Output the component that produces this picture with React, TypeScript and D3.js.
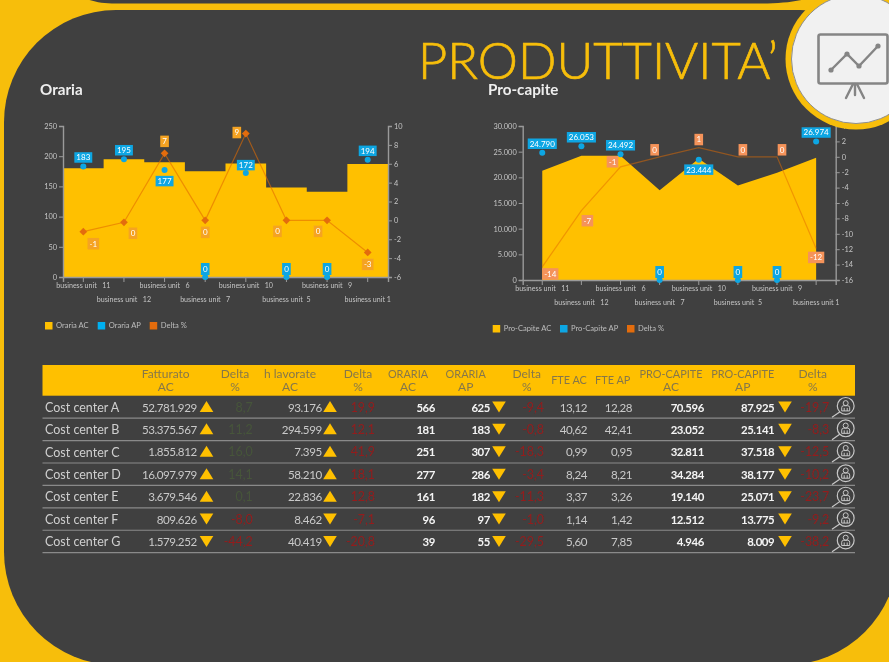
import React, { useEffect, useRef } from 'react';
import * as d3 from 'd3';

// ---- data ----
const units = ['business unit   11', 'business unit   12', 'business unit   6', 'business unit   7', 'business unit   10', 'business unit  5', 'business unit   9', 'business unit 1'];

const orariaAC = [180, 195, 190, 175, 188, 148, 141, 187];
const orariaAP = [183, 195, 177, 0, 172, 0, 0, 194];
const orariaDelta = [-1.2, -0.2, 7.1, 0, 9.2, 0, 0, -3.4];

const procapiteAC = [21300, 24200, 24200, 17500, 23600, 18400, 20900, 23800];
const procapiteAP = [24790, 26053, 24492, 0, 23444, 0, 0, 26974];
const procapiteDelta = [-14.3, -7, -1.3, 0, 1.2, 0, 0, -11.9];

const orariaTicks = [0, 50, 100, 150, 200, 250];
const orariaDeltaTicks = [-6, -4, -2, 0, 2, 4, 6, 8, 10];
const procapiteTicks = [0, 5000, 10000, 15000, 20000, 25000, 30000];
const procapiteDeltaTicks = [-16, -14, -12, -10, -8, -6, -4, -2, 0, 2, 4];

const centers = ['Cost center A', 'Cost center B', 'Cost center C', 'Cost center D', 'Cost center E', 'Cost center F', 'Cost center G'];
const fatturatoAC = [52781929, 53375567, 1855812, 16097979, 3679546, 809626, 1579252];
const fatturatoDelta = [8.7, 11.2, 16.0, 14.1, 0.1, -8.0, -44.2];
const oreAC = [93176, 294599, 7395, 58210, 22836, 8462, 40419];
const oreDelta = [19.9, 12.1, 41.9, 18.1, 12.8, -7.1, -20.8];
const tabOrariaAC = [566, 181, 251, 277, 161, 96, 39];
const tabOrariaAP = [625, 183, 307, 286, 182, 97, 55];
const tabOrariaDelta = [-9.4, -0.8, -18.3, -3.4, -11.3, -1.0, -29.5];
const fteAC = [13.12, 40.62, 0.99, 8.24, 3.37, 1.14, 5.60];
const fteAP = [12.28, 42.41, 0.95, 8.21, 3.26, 1.42, 7.85];
const tabCapiteAC = [70596, 23052, 32811, 34284, 19140, 12512, 4946];
const tabCapiteAP = [87925, 25141, 37518, 38177, 25071, 13775, 8009];
const tabCapiteDelta = [-19.7, -8.3, -12.5, -10.2, -23.7, -9.2, -38.2];

// ---- label nudges, one [dx, dy] per point ----
const orariaAPNudge = [[0, -9], [0, -9], [0, 11], [0, -8], [0, -8], [0, -8], [0, -8], [0, -9]];
const orariaDeltaNudge = [[10, 12], [9, 11], [0, -12], [0, 12], [-9, -1], [-9, 11], [-9, 11], [0, 12]];
const procapiteAPNudge = [[0, -9], [0, -9], [0, -9], [0, -8], [0, 10], [0, -8], [0, -8], [0, -9]];
const procapiteDeltaNudge = [[8, 7], [6, 10], [-8, -5], [-5, -7], [0, -8], [5, -7], [5, -7], [0, 9]];

const FONT = 'Lato, "Open Sans", sans-serif';
const YELLOW = '#F7BE0B';
const PANEL = '#404040';
const GOLD = '#FFC000';
const BLUE = '#0FA6E3';
const ORANGE = '#E36C0A';

const it = d3.formatLocale({ decimal: ',', thousands: '.', grouping: [3], currency: ['', ''], minus: '-' });
const fmtInt = it.format(',d');
const fmt1 = it.format(',.1f');
const fmt2 = it.format(',.2f');
const fmtRound = it.format('.0f');

type Combo = {
  left: number; right: number; top: number; bottom: number;
  ac: number[]; ap: number[]; delta: number[];
  ticks: number[]; deltaTicks: number[];
  apNudge: number[][]; deltaNudge: number[][];
  step: boolean; markers: boolean; labelFill: string; lineOpacity: number;
  apFormat: (v: number) => string; axisFormat: (v: number) => string;
};

function drawCombo(g: any, c: Combo) {
  const x = d3.scaleBand<string>().domain(units).range([c.left, c.right]);
  const mid = (i: number) => x(units[i])! + x.bandwidth() / 2;
  const y = d3.scaleLinear().domain([c.ticks[0], c.ticks[c.ticks.length - 1]]).range([c.bottom, c.top]);
  const yd = d3.scaleLinear().domain([c.deltaTicks[0], c.deltaTicks[c.deltaTicks.length - 1]]).range([c.bottom, c.top]);

  // AC area
  if (c.step) {
    const pts = c.ac.map((v, i) => [x(units[i])!, v] as [number, number]);
    pts.push([c.right, c.ac[c.ac.length - 1]]);
    const area = d3.area<[number, number]>().x(d => d[0]).y0(c.bottom).y1(d => y(d[1])).curve(d3.curveStepAfter);
    g.append('path').attr('d', area(pts)).attr('fill', GOLD);
  } else {
    const area = d3.area<number>().x((_, i) => mid(i)).y0(c.bottom).y1(d => y(d));
    g.append('path').attr('d', area(c.ac)).attr('fill', GOLD);
  }

  const styleAxis = (a: any) => {
    a.select('.domain').attr('stroke', '#9a9a9a').attr('stroke-width', 1.4);
    a.selectAll('.tick line').attr('stroke', '#9a9a9a').attr('stroke-width', 1);
    a.selectAll('.tick text').attr('fill', '#c4c4c4').attr('font-size', 7.4).attr('font-family', FONT);
  };

  const axisL = g.append('g').attr('transform', `translate(${c.left},0)`)
    .call(d3.axisLeft(y).tickValues(c.ticks).tickFormat(c.axisFormat as any).tickSize(4).tickPadding(2));
  styleAxis(axisL);
  const axisR = g.append('g').attr('transform', `translate(${c.right},0)`)
    .call(d3.axisRight(yd).tickValues(c.deltaTicks).tickFormat(fmtRound as any).tickSize(4).tickPadding(2));
  styleAxis(axisR);
  const axisB = g.append('g').attr('transform', `translate(0,${c.bottom})`)
    .call(d3.axisBottom(x).tickSize(5).tickPadding(5));
  styleAxis(axisB);
  axisB.selectAll('.tick text')
    .style('white-space', 'pre')
    .attr('font-size', 7.1)
    .attr('y', (_: any, i: number) => (i % 2 ? 20 : 6));

  // delta line
  const line = d3.line<number>().x((_, i) => mid(i)).y(d => yd(d));
  g.append('path').attr('d', line(c.delta)).attr('fill', 'none')
    .attr('stroke', ORANGE).attr('stroke-width', 1.2).attr('stroke-opacity', c.lineOpacity);

  if (c.markers) {
    const diamond = d3.symbol().type(d3.symbolSquare).size(30);
    g.selectAll('.mark').data(c.delta).enter().append('path')
      .attr('class', 'mark').attr('d', diamond as any)
      .attr('transform', (d: number, i: number) => `translate(${mid(i)},${yd(d)}) rotate(45)`)
      .attr('fill', ORANGE);
  }

  // AP dots
  g.selectAll('.dot').data(c.ap).enter().append('circle')
    .attr('class', 'dot').attr('cx', (_: number, i: number) => mid(i)).attr('cy', (d: number) => y(d))
    .attr('r', 3).attr('fill', BLUE);

  const tag = (text: string, cx: number, cy: number, fill: string, h: number) => {
    const t = g.append('g').attr('transform', `translate(${cx},${cy})`);
    const r = t.append('rect').attr('fill', fill);
    const s = t.append('text').text(text).attr('text-anchor', 'middle').attr('y', 2.9)
      .attr('fill', '#fff').attr('font-size', 8).attr('font-family', FONT);
    const w = Math.max((s.node() as SVGTextElement).getComputedTextLength() + 4, 8);
    r.attr('x', -w / 2).attr('y', -h / 2).attr('width', w).attr('height', h);
  };

  c.delta.forEach((d, i) => {
    const [dx, dy] = c.deltaNudge[i];
    tag(fmtRound(d), mid(i) + dx, yd(d) + dy, c.labelFill, 11.5);
  });
  c.ap.forEach((d, i) => {
    const [dx, dy] = c.apNudge[i];
    tag(c.apFormat(d), mid(i) + dx, y(d) + dy, BLUE, d === 0 ? 12 : 10.5);
  });
}

function drawLegend(g: any, items: { label: string; color: string; x: number }[], y: number) {
  items.forEach(it2 => {
    g.append('rect').attr('x', it2.x).attr('y', y).attr('width', 7.5).attr('height', 7.5).attr('fill', it2.color);
    g.append('text').text(it2.label).attr('x', it2.x + 11).attr('y', y + 6.4)
      .attr('fill', '#bdbdbd').attr('font-size', 7.6).attr('font-family', FONT);
  });
}

const GREEN_DIM = '#46553a';
const RED_DIM = '#931c1c';

function drawTable(g: any) {
  const left = 42.5, right = 855, headTop = 365, headBottom = 395.7, rowsBottom = 552.7;
  const rows = d3.scaleBand<string>().domain(centers).range([headBottom, rowsBottom]);

  g.append('rect').attr('x', left).attr('y', headTop).attr('width', right - left).attr('height', headBottom - headTop).attr('fill', GOLD);

  const colDelta = (arr: number[], good: boolean) => (i: number) => (good && arr[i] > 0 ? GREEN_DIM : RED_DIM);
  const plain = () => '#c9c9c9';
  const bold = () => '#f4f4f4';

  const cols = [
    { head: ['Fatturato', 'AC'], hx: 165.7, rx: 196.7, vals: fatturatoAC, f: fmtInt, color: plain, weight: 400, tri: (i: number) => fatturatoDelta[i] > 0, tx: 206.5 },
    { head: ['Delta', '%'], hx: 235, rx: 252.7, vals: fatturatoDelta, f: fmt1, color: colDelta(fatturatoDelta, true), weight: 400, wide: true },
    { head: ['h lavorate', 'AC'], hx: 290, rx: 321.7, vals: oreAC, f: fmtInt, color: plain, weight: 400, tri: (i: number) => oreDelta[i] > 0, tx: 330 },
    { head: ['Delta', '%'], hx: 358, rx: 375, vals: oreDelta, f: fmt1, color: colDelta(oreDelta, false), weight: 400, wide: true },
    { head: ['ORARIA', 'AC'], hx: 408, rx: 435, vals: tabOrariaAC, f: fmtInt, color: bold, weight: 700 },
    { head: ['ORARIA', 'AP'], hx: 465.7, rx: 490, vals: tabOrariaAP, f: fmtInt, color: bold, weight: 700, tri: (i: number) => tabOrariaAC[i] > tabOrariaAP[i], tx: 499 },
    { head: ['Delta', '%'], hx: 526.7, rx: 544, vals: tabOrariaDelta, f: fmt1, color: colDelta(tabOrariaDelta, false), weight: 400, wide: true },
    { head: ['FTE AC'], hx: 569, rx: 587, vals: fteAC, f: fmt2, color: plain, weight: 400 },
    { head: ['FTE AP'], hx: 612.7, rx: 632, vals: fteAP, f: fmt2, color: plain, weight: 400 },
    { head: ['PRO-CAPITE', 'AC'], hx: 671, rx: 704, vals: tabCapiteAC, f: fmtInt, color: bold, weight: 700 },
    { head: ['PRO-CAPITE', 'AP'], hx: 742.7, rx: 774.3, vals: tabCapiteAP, f: fmtInt, color: bold, weight: 700, tri: (i: number) => tabCapiteAC[i] > tabCapiteAP[i], tx: 785 },
    { head: ['Delta', '%'], hx: 812.7, rx: 829.3, vals: tabCapiteDelta, f: fmt1, color: colDelta(tabCapiteDelta, false), weight: 400, wide: true },
  ];

  cols.forEach(c => {
    c.head.forEach((h, j) => {
      const base = c.head.length === 1 ? 384.2 : 377.8 + j * 13.3;
      const caps = h === h.toUpperCase() && h.length > 2;
      g.append('text').text(h).attr('x', c.hx).attr('y', base).attr('text-anchor', 'middle')
        .attr('fill', '#86774a').attr('font-size', caps ? 10.9 : 12).attr('font-family', FONT);
    });
  });

  centers.forEach((name, i) => {
    const top = rows(name)!;
    const cy = top + rows.bandwidth() / 2;
    g.append('line').attr('x1', left).attr('x2', right).attr('y1', top + rows.bandwidth()).attr('y2', top + rows.bandwidth())
      .attr('stroke', '#8a8a8a').attr('stroke-width', 1.2);
    g.append('text').text(name).attr('x', 45).attr('y', cy + 4.8)
      .attr('fill', '#cfcfcf').attr('font-size', 12.5).attr('font-family', FONT);

    cols.forEach(c => {
      g.append('text').text(c.f(c.vals[i])).attr('x', c.rx).attr('y', cy + 4.6).attr('text-anchor', 'end')
        .attr('fill', c.color(i)).attr('font-size', c.wide ? 12.4 : c.weight === 700 ? 11.4 : 11.6)
        .attr('letter-spacing', c.wide ? 0 : c.weight === 700 ? -0.4 : -0.45)
        .attr('font-weight', c.weight).attr('font-family', FONT);
      if (c.tri) {
        const up = c.tri(i);
        const pts = up ? [[-6.8, 5], [6.8, 5], [0, -6]] : [[-6.8, -5.5], [6.8, -5.5], [0, 5.5]];
        g.append('path').attr('d', d3.line()(pts as any)! + 'Z')
          .attr('transform', `translate(${c.tx},${cy})`).attr('fill', GOLD);
      }
    });

    // person lens
    const lens = g.append('g').attr('transform', `translate(845.7,${cy - 1})`)
      .attr('fill', 'none').attr('stroke', '#c8c8c8');
    lens.append('circle').attr('r', 8.4).attr('stroke-width', 1.2).attr('fill', PANEL);
    lens.append('circle').attr('cy', -2.8).attr('r', 2.5).attr('stroke-width', 1);
    lens.append('path').attr('d', 'M-4,5 V1.8 Q-4,-0.2 -2,-0.2 H2 Q4,-0.2 4,1.8 V5 Z M-1.5,5 V2 M1.5,5 V2').attr('stroke-width', 1);
    lens.append('line').attr('x1', -6).attr('y1', 6).attr('x2', -13.7).attr('y2', 11.3).attr('stroke-width', 1.2);
  });
}

const App = () => {
  const svgRef = useRef<SVGSVGElement>(null);

  useEffect(() => {
    document.body.style.margin = '0';
    const svg = d3.select(svgRef.current);
    svg.selectAll('*').remove();

    svg.append('rect').attr('width', 889).attr('height', 662).attr('fill', YELLOW);

    const defs = svg.append('defs');
    defs.append('filter').attr('id', 'soft').attr('x', '-5%').attr('y', '-5%').attr('width', '110%').attr('height', '110%')
      .append('feGaussianBlur').attr('stdDeviation', 0.4);
    defs.append('filter').attr('id', 'softer').attr('x', '-5%').attr('y', '-5%').attr('width', '110%').attr('height', '110%')
      .append('feGaussianBlur').attr('stdDeviation', 0.25);

    // dark shapes of the slide
    svg.append('path').attr('fill', PANEL)
      .attr('d', 'M84,-2 C94,2 102,3.5 116,3.5 H760 C780,3.5 795,2 810,-2 Z');
    svg.append('path').attr('fill', PANEL)
      .attr('d', 'M116,10 H800 A98,98 0 0 1 898,108 V552 A113,113 0 0 1 785,665 H117 A113,113 0 0 1 4,552 V122 A112,112 0 0 1 116,10 Z');

    // title
    svg.append('text').text('PRODUTTIVITA’').attr('x', 418).attr('y', 79)
      .attr('textLength', 360).attr('lengthAdjust', 'spacingAndGlyphs')
      .attr('fill', YELLOW).attr('stroke', YELLOW).attr('stroke-width', 0.7)
      .attr('font-size', 51).attr('font-weight', 300).attr('font-family', FONT);

    const heads = svg.append('g').attr('filter', 'url(#softer)');
    heads.append('text').text('Oraria').attr('x', 40).attr('y', 95).attr('fill', '#eeeeee').attr('font-size', 15.2).attr('font-weight', 700).attr('font-family', FONT);
    heads.append('text').text('Pro-capite').attr('x', 488).attr('y', 95).attr('fill', '#eeeeee').attr('font-size', 15.2).attr('font-weight', 700).attr('font-family', FONT);

    const charts = svg.append('g').attr('filter', 'url(#soft)');
    drawCombo(charts.append('g'), {
      left: 63, right: 388, top: 126, bottom: 277,
      ac: orariaAC, ap: orariaAP, delta: orariaDelta,
      ticks: orariaTicks, deltaTicks: orariaDeltaTicks,
      apNudge: orariaAPNudge, deltaNudge: orariaDeltaNudge,
      step: true, markers: true, labelFill: '#F5A321', lineOpacity: 0.6,
      apFormat: fmtRound, axisFormat: fmtRound,
    });
    drawCombo(charts.append('g'), {
      left: 522.7, right: 835.7, top: 126, bottom: 280,
      ac: procapiteAC, ap: procapiteAP, delta: procapiteDelta,
      ticks: procapiteTicks, deltaTicks: procapiteDeltaTicks,
      apNudge: procapiteAPNudge, deltaNudge: procapiteDeltaNudge,
      step: false, markers: false, labelFill: '#F5935A', lineOpacity: 0.5,
      apFormat: fmtInt, axisFormat: fmtInt,
    });
    drawLegend(charts.append('g'), [
      { label: 'Oraria AC', color: GOLD, x: 45 },
      { label: 'Oraria AP', color: '#00B0F0', x: 97.7 },
      { label: 'Delta %', color: ORANGE, x: 149.7 },
    ], 322);
    drawLegend(charts.append('g'), [
      { label: 'Pro-Capite AC', color: GOLD, x: 492.7 },
      { label: 'Pro-Capite AP', color: BLUE, x: 560 },
      { label: 'Delta %', color: ORANGE, x: 627 },
    ], 325);

    drawTable(svg.append('g').attr('filter', 'url(#softer)'));

    // corner badge
    const badge = svg.append('g');
    badge.append('circle').attr('cx', 856).attr('cy', 59).attr('r', 70.5).attr('fill', YELLOW);
    badge.append('circle').attr('cx', 856).attr('cy', 59).attr('r', 64.5).attr('fill', '#f1f1f1').attr('stroke', '#8f8f8f').attr('stroke-width', 1);
    const ico = badge.append('g').attr('fill', 'none').attr('stroke', '#858585').attr('stroke-linecap', 'round');
    ico.append('rect').attr('x', 818.5).attr('y', 34.5).attr('width', 69).attr('height', 49).attr('rx', 2).attr('stroke-width', 2.6);
    const trend: [number, number][] = [[831, 70], [847, 54], [859, 66], [878, 46]];
    ico.append('path').attr('d', d3.line()(trend)!).attr('stroke-width', 2.4);
    ico.selectAll('circle').data(trend).enter().append('circle')
      .attr('cx', d => d[0]).attr('cy', d => d[1]).attr('r', 2.6).attr('fill', '#858585').attr('stroke', 'none');
    ico.append('path').attr('d', 'M853,84 L846,98 M855,84 V95 M857,84 L864,98').attr('stroke-width', 2.4);
  }, []);

  return <svg ref={svgRef} width={889} height={662} style={{ position: 'absolute', left: 0, top: 0, display: 'block' }} />;
};

export default App;
